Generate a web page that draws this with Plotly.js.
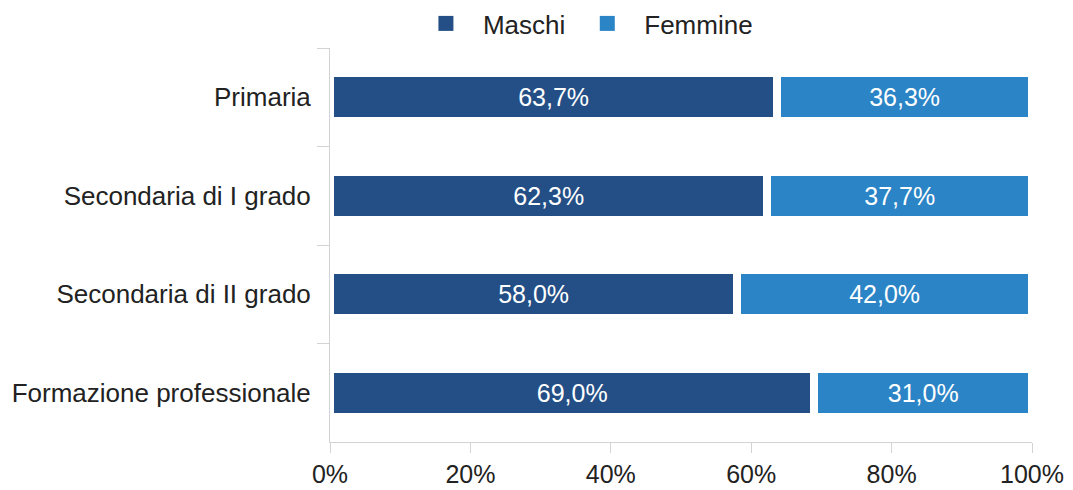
<!DOCTYPE html>
<html>
<head>
<meta charset="utf-8">
<script src="https://cdn.plot.ly/plotly-3.0.1.min.js"></script>
<style>
  html, body { margin: 0; padding: 0; background: #fff; }
  #chart { width: 1073px; height: 490px; }
</style>
</head>
<body>
<div id="chart"></div>
<script>
var categories = ["Primaria", "Secondaria di I grado", "Secondaria di II grado", "Formazione professionale"];
var maschi = [63.7, 62.3, 58.0, 69.0];
var femmine = [36.3, 37.7, 42.0, 31.0];
var xTicks = [0, 20, 40, 60, 80, 100];

var darkBlue = "#234f86";
var lightBlue = "#2a84c6";
var axisGray = "#d3d3d3";
var fontFam = "Liberation Sans, Arial, sans-serif";

function barTrace(name, values, color) {
    return {
        name: name,
        type: "bar",
        orientation: "h",
        x: values,
        y: categories,
        showlegend: false,
        marker: { color: color, line: { color: "#ffffff", width: 8 } },
        texttemplate: "%{x:.1f}%",
        textposition: "inside",
        insidetextanchor: "middle",
        textfont: { color: "#ffffff", size: 25, family: fontFam },
        hoverinfo: "skip"
    };
}

// legend-only squares
function legendTrace(name, color) {
    return {
        name: name,
        type: "scatter",
        mode: "markers",
        x: [null],
        y: [null],
        marker: { symbol: "square", size: 15, color: color },
        hoverinfo: "skip"
    };
}

var traces = [
    barTrace("Maschi", maschi, darkBlue),
    barTrace("Femmine", femmine, lightBlue),
    legendTrace("Maschi", darkBlue),
    legendTrace("Femmine", lightBlue)
];

var layout = {
    width: 1073,
    height: 490,
    margin: { l: 330, r: 41, t: 48, b: 48 },
    paper_bgcolor: "#ffffff",
    plot_bgcolor: "#ffffff",
    separators: ",.",
    barmode: "stack",
    bargap: 0.51,
    font: { family: fontFam, size: 26, color: "#222222" },
    showlegend: true,
    legend: {
        orientation: "h",
        traceorder: "normal",
        x: 0.361,
        xref: "paper",
        xanchor: "center",
        y: 1,
        yref: "container",
        yanchor: "top",
        itemwidth: 64,
        font: { size: 26, color: "#222222" }
    },
    xaxis: {
        range: [0, 100],
        tickvals: xTicks,
        ticktext: xTicks.map(function (v) { return v + "%"; }),
        showgrid: false,
        zeroline: false,
        showline: true,
        linecolor: axisGray,
        linewidth: 1,
        ticks: "outside",
        ticklen: 10,
        tickcolor: axisGray,
        tickfont: { size: 25 },
        layer: "below traces",
        fixedrange: true
    },
    yaxis: {
        type: "category",
        autorange: "reversed",
        showgrid: false,
        zeroline: false,
        showline: true,
        linecolor: axisGray,
        linewidth: 1,
        ticks: "outside",
        tickson: "boundaries",
        ticklen: 12,
        tickcolor: axisGray,
        tickfont: { size: 26 },
        ticklabelstandoff: 13,
        layer: "below traces",
        fixedrange: true
    }
};

Plotly.newPlot("chart", traces, layout, { displayModeBar: false, staticPlot: true });
</script>
</body>
</html>
